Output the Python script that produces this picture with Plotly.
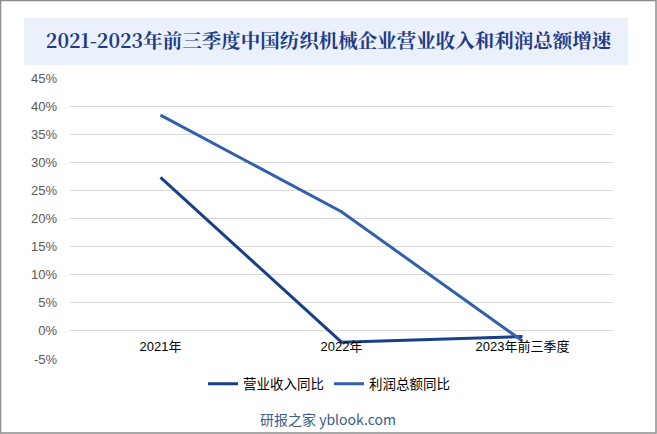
import plotly.graph_objects as go

categories = ["2021年", "2022年", "2023年前三季度"]
revenue_growth = [27.3, -2.0, -1.0]
profit_growth = [38.4, 21.2, -1.8]
series_names = ["营业收入同比", "利润总额同比"]
y_ticks = [-5, 0, 5, 10, 15, 20, 25, 30, 35, 40, 45]
y_tick_labels = [f"{v}%" for v in y_ticks]
title_text = "2021-2023年前三季度中国纺织机械企业营业收入和利润总额增速"
footer_text = "研报之家 yblook.com"

W, H = 657, 434
L, R, T, B = 70, 44, 78, 75
pw, ph = W - L - R, H - T - B

def px_x(p):
    return (p - L) / pw

def px_y(p):
    return (H - B - p) / ph

fig = go.Figure()
fig.add_trace(go.Scatter(x=categories, y=revenue_growth, mode="lines", name=series_names[0],
                         line=dict(color="#173F8A", width=3)))
fig.add_trace(go.Scatter(x=categories, y=profit_growth, mode="lines", name=series_names[1],
                         line=dict(color="#3360AE", width=3)))

font_family = "Noto Sans CJK SC, Microsoft YaHei, sans-serif"

fig.update_layout(
    width=W, height=H,
    margin=dict(l=L, r=R, t=T, b=B, pad=0),
    paper_bgcolor="white", plot_bgcolor="white",
    font=dict(family=font_family),
    title=dict(text="<b>" + title_text + "</b>", x=0.5, xanchor="center",
               y=1 - 41 / H, yanchor="middle",
               font=dict(size=19.5, color="#1F3C88", family="Noto Serif CJK SC, Noto Sans CJK SC, serif")),
    showlegend=True,
    legend=dict(orientation="h", x=px_x(329), xanchor="center", y=px_y(384), yanchor="middle",
                font=dict(size=13.5, color="#000000"), itemwidth=30, traceorder="normal"),
    xaxis=dict(type="category", range=[-0.5, 2.5], showgrid=False, showline=False,
               ticks="", anchor="free", position=px_y(331.3), ticklabelstandoff=6,
               tickfont=dict(size=13, color="#000000", family="Liberation Sans, Arial, Noto Sans CJK SC")),
    yaxis=dict(range=[-5, 45], tickvals=y_ticks, ticktext=y_tick_labels,
               showgrid=True, gridcolor="#D9D9D9", gridwidth=1, zeroline=False,
               showline=False, ticks="", ticklabelstandoff=12,
               tickfont=dict(size=13, color="#595959", family="Liberation Sans, Arial")),
    shapes=[
        dict(type="rect", xref="paper", yref="paper",
             x0=px_x(24), x1=px_x(628), y0=px_y(65), y1=px_y(17.6),
             fillcolor="#EAF1FB", line=dict(width=0), layer="below"),
        dict(type="rect", xref="paper", yref="paper",
             x0=px_x(0.5), x1=px_x(656), y0=px_y(433), y1=px_y(0.5),
             fillcolor="rgba(0,0,0,0)", line=dict(color="#8C8C8C", width=1.5)),
    ],
    annotations=[
        dict(text=footer_text, xref="paper", yref="paper", x=px_x(328), y=px_y(419),
             xanchor="center", yanchor="middle", showarrow=False,
             font=dict(size=14, color="#3B5B8B", family=font_family)),
    ],
)

fig.write_html("out.html")
